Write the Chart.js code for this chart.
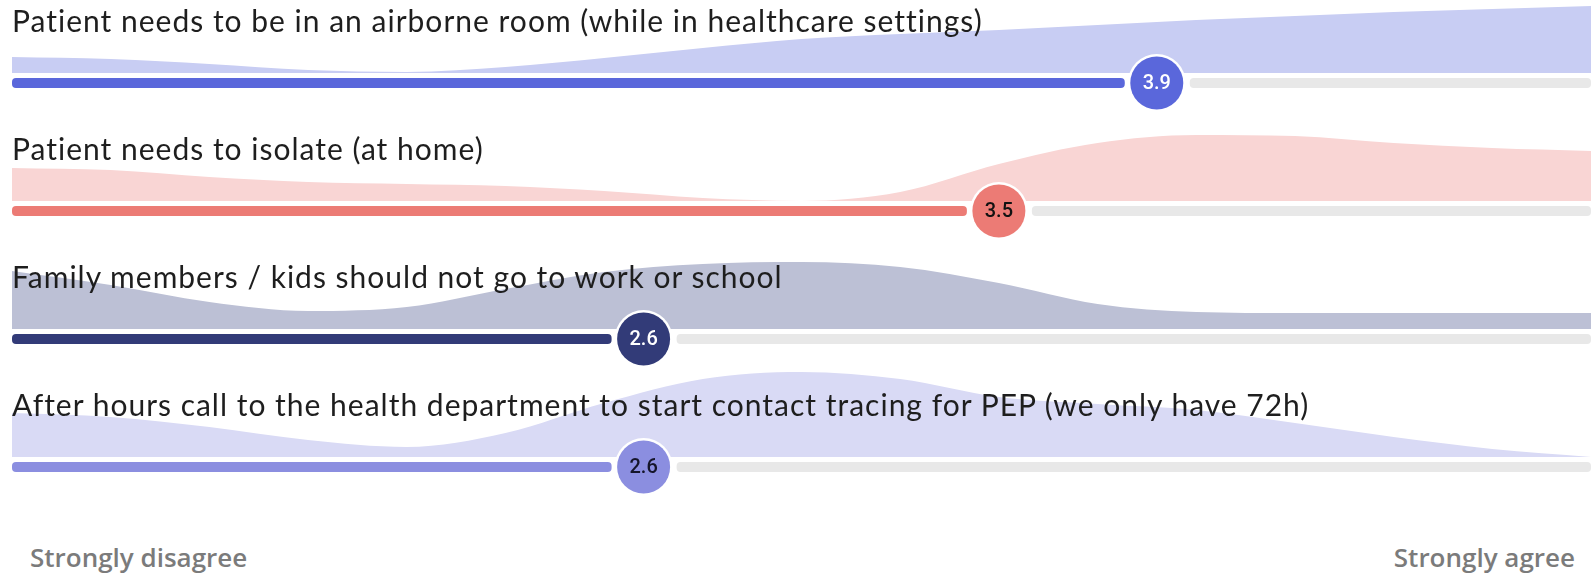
<!DOCTYPE html>
<html>
<head>
<meta charset="utf-8">
<script src="https://cdn.jsdelivr.net/npm/chart.js@4.4.1/dist/chart.umd.min.js"></script>
<style>
  body { margin: 0; background: #fff; }
  #wrap { position: relative; width: 1593px; height: 575px; overflow: hidden; font-family: Lato, sans-serif; }
  #wrap canvas { position: absolute; left: 0; }
  .label { position: absolute; left: 12px; font-size: 30px; line-height: 30px; letter-spacing: 1px; color: #1e1e1e; white-space: nowrap; z-index: 5; }
  .axis { position: absolute; top: 544px; font-family: 'Open Sans', sans-serif; font-size: 26px; line-height: 26px; font-weight: 600; color: #7b7b7b; }
</style>
</head>
<body>
<div id="wrap">
  <div class="axis" style="left:30px">Strongly disagree</div>
  <div class="axis" style="right:18px">Strongly agree</div>
</div>
<script>
// scale positions (1 = strongly disagree, 5 = strongly agree)
const levels = [1, 1.25, 1.5, 1.75, 2, 2.25, 2.5, 2.75, 3, 3.25, 3.5, 3.75, 4, 4.25, 4.5, 4.75, 5];

const questions = [
    'Patient needs to be in an airborne room (while in healthcare settings)',
    'Patient needs to isolate (at home)',
    'Family members / kids should not go to work or school',
    'After hours call to the health department to start contact tracing for PEP (we only have 72h)'
];
const means = [3.9, 3.5, 2.6, 2.6];

// distribution shapes
const airborne   = [16, 14, 9, 3, 1, 6, 15, 25, 34, 39, 43, 48, 53, 57, 61, 64, 67];
const isolate    = [33, 31, 24, 19, 17, 15, 10, 3, 0, 9, 37, 58, 66, 65, 58, 53, 50];
const family     = [58, 44, 27, 18, 22, 40, 57, 65, 67, 62, 46, 25, 17, 16, 16, 16, 16];
const afterHours = [44, 40, 30, 17, 10, 24, 54, 78, 85, 78, 60, 53, 47, 34, 20, 8, 0];
const series = [airborne, isolate, family, afterHours];

const barColors   = ['#5a67db', '#ec7b75', '#323b78', '#8b8ee0'];
const areaColors  = ['#c8cdf3', '#f9d5d4', '#bcc0d5', '#d9daf5'];
const badgeText   = ['#ffffff', '#111111', '#ffffff', '#15152a'];

// bar from 1 to mean, grey track after it, badge with the mean
const rowBar = {
    id: 'rowBar',
    afterDatasetsDraw(chart, args, opts) {
        const { ctx, chartArea } = chart;
        const x = chart.scales.x;
        const cy = chartArea.bottom + 10;
        const cx = x.getPixelForValue(opts.mean);
        const left = x.getPixelForValue(1);
        const right = x.getPixelForValue(5);
        ctx.save();
        ctx.fillStyle = '#e8e8e8';
        ctx.beginPath();
        ctx.roundRect(cx + 33, cy - 5, right - cx - 33, 10, 4);
        ctx.fill();
        ctx.fillStyle = opts.color;
        ctx.beginPath();
        ctx.roundRect(left, cy - 5, cx - 32 - left, 10, 4);
        ctx.fill();
        ctx.fillStyle = '#ffffff';
        ctx.beginPath();
        ctx.arc(cx, cy, 29, 0, Math.PI * 2);
        ctx.fill();
        ctx.fillStyle = opts.color;
        ctx.beginPath();
        ctx.arc(cx, cy, 26.5, 0, Math.PI * 2);
        ctx.fill();
        ctx.fillStyle = opts.textColor;
        ctx.font = '500 20px Roboto';
        ctx.textAlign = 'center';
        ctx.textBaseline = 'middle';
        ctx.fillText(opts.mean.toFixed(1), cx, cy + 1);
        ctx.restore();
    }
};

const wrap = document.getElementById('wrap');

questions.forEach((q, i) => {
    const label = document.createElement('div');
    label.className = 'label';
    label.style.top = (5 + 128 * i) + 'px';
    label.textContent = q;
    wrap.appendChild(label);

    const canvas = document.createElement('canvas');
    canvas.width = 1593;
    canvas.height = 145;
    canvas.style.top = (73 + 128 * i - 100) + 'px';
    wrap.appendChild(canvas);

    new Chart(canvas.getContext('2d'), {
        type: 'line',
        data: {
            datasets: [{
                data: levels.map((lv, k) => ({ x: lv, y: series[i][k] })),
                fill: 'origin',
                backgroundColor: areaColors[i],
                borderWidth: 0,
                pointRadius: 0,
                cubicInterpolationMode: 'monotone',
                clip: false
            }]
        },
        options: {
            responsive: false,
            animation: false,
            events: [],
            layout: { padding: { left: 12, right: 2, top: 0, bottom: 45 } },
            scales: {
                x: { type: 'linear', min: 1, max: 5, display: false },
                y: { min: 0, max: 100, display: false }
            },
            plugins: {
                legend: { display: false },
                tooltip: { enabled: false },
                rowBar: { mean: means[i], color: barColors[i], textColor: badgeText[i] }
            }
        },
        plugins: [rowBar]
    });
});
</script>
</body>
</html>
